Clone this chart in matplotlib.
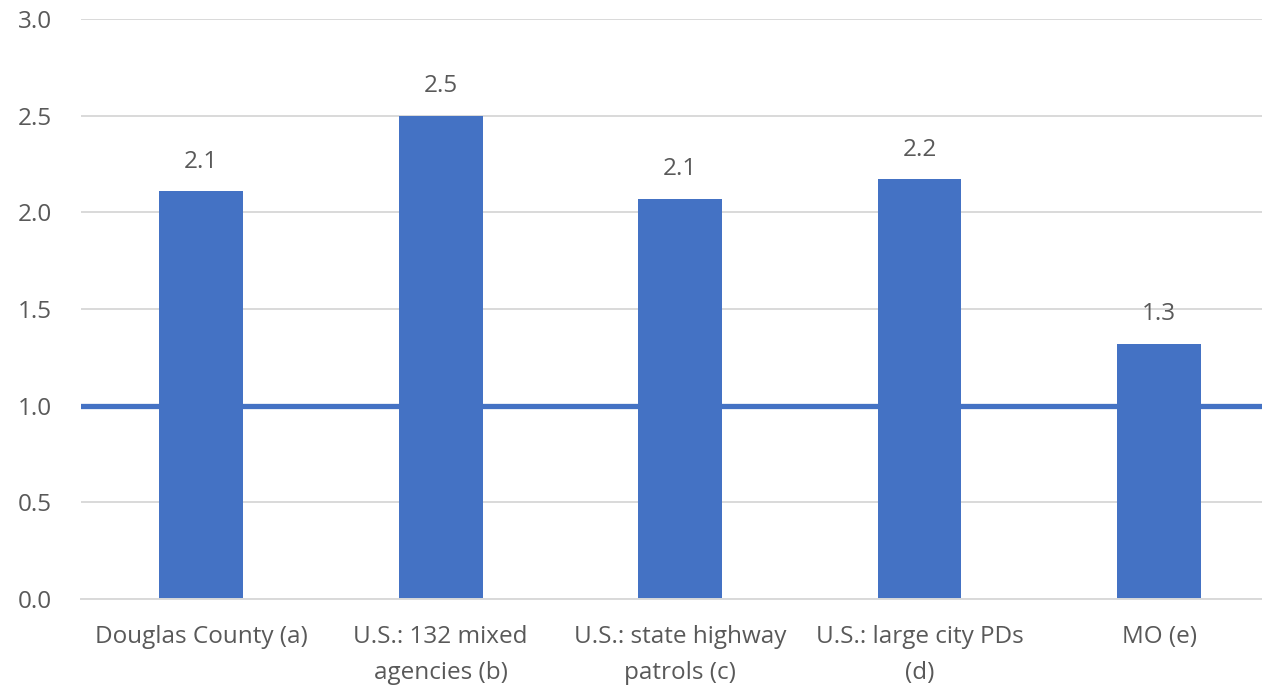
import matplotlib
matplotlib.use("Agg")
import matplotlib.pyplot as plt

categorias = ["Douglas County (a)", "U.S.: 132 mixed\nagencies (b)",
              "U.S.: state highway\npatrols (c)", "U.S.: large city PDs\n(d)", "MO (e)"]
valores = [2.11, 2.50, 2.07, 2.17, 1.32]
referencia = 1.0
ticks_y = [0.0, 0.5, 1.0, 1.5, 2.0, 2.5, 3.0]

AZUL = "#4472C4"
CINZA = "#595959"
GRADE = "#D9D9D9"

plt.rcParams["font.family"] = ["Open Sans", "DejaVu Sans"]

fig = plt.figure(figsize=(12.62, 6.89), dpi=100)
ax = fig.add_axes([0.0645, 0.1306, 0.9355, 0.8418])

x = range(len(categorias))
ax.bar(x, valores, width=0.35, color=AZUL, zorder=2)
ax.axhline(referencia, color=AZUL, linewidth=3.8, zorder=3)

for xi, v in zip(x, valores):
    ax.text(xi, v + 0.09, f"{v:.1f}", ha="center", va="bottom",
            fontsize=17.5, color=CINZA)

ax.set_xlim(-0.5, 4.43)
ax.set_ylim(0, 3.0)
ax.set_yticks(ticks_y)
ax.set_yticklabels([f"{t:.1f}" for t in ticks_y])
ax.set_xticks(list(x))
ax.set_xticklabels(categorias, linespacing=1.65)
ax.tick_params(axis="both", length=0, labelsize=17.5, labelcolor=CINZA)
ax.tick_params(axis="y", pad=21)
ax.tick_params(axis="x", pad=19)
ax.grid(True, axis="y", color=GRADE, linewidth=1.4, zorder=0)
for lado in ["top", "right", "left"]:
    ax.spines[lado].set_visible(False)
ax.spines["bottom"].set_color(GRADE)
ax.spines["bottom"].set_linewidth(1.4)

fig.savefig("out.png", dpi=100)
